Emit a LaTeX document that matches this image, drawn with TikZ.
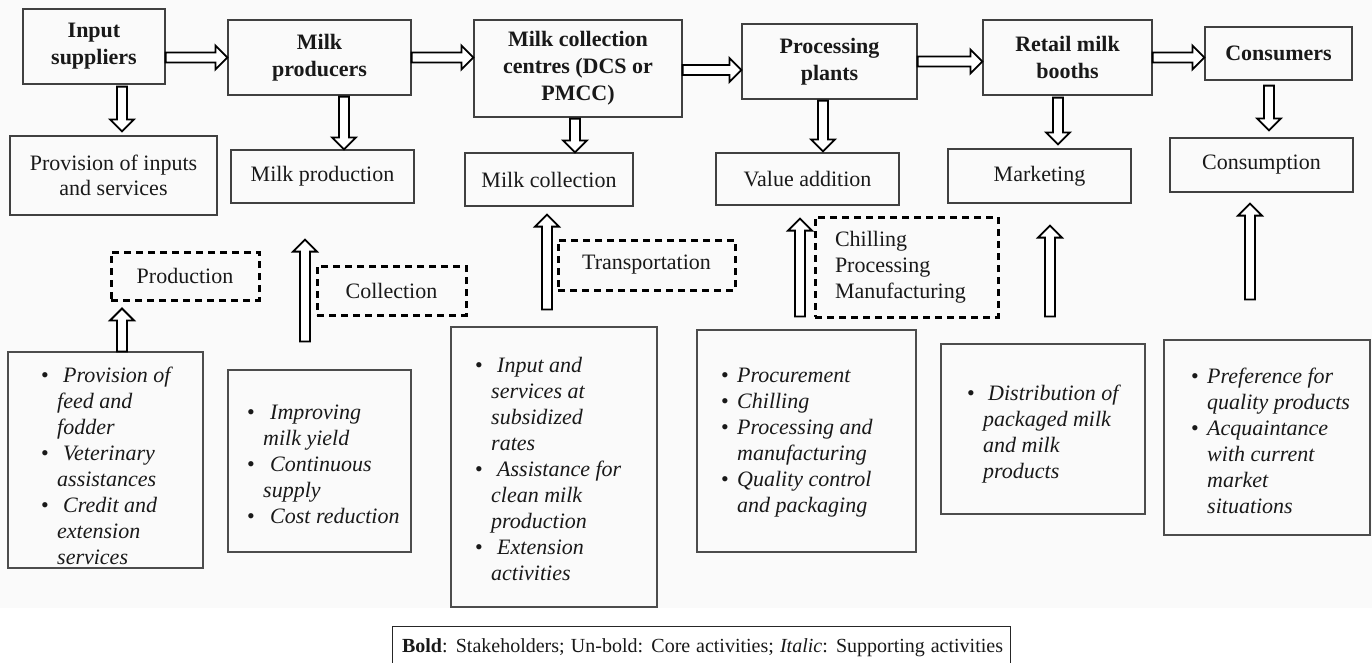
\documentclass[tikz,border=0pt]{standalone}
\usepackage{fontspec}
\setmainfont{Liberation Serif}
\usetikzlibrary{calc}
\newcommand\bu[1]{\makebox[#1pt][l]{\upshape\textbullet}}
\newcommand\co{\hspace*{16pt}}
\begin{document}
\begin{tikzpicture}[x=1pt,y=-1pt,
  hdr/.style={draw=black!75, line width=1.2pt, align=center, font=\fontsize{22}{27}\selectfont\bfseries, text=black!90, inner sep=0pt},
  core/.style={draw=black!75, line width=1.2pt, align=center, font=\fontsize{22}{25}\selectfont, text=black!90, inner sep=0pt},
  sup/.style={draw=black!70, line width=1.2pt, inner sep=0pt},
  dsh/.style={draw=black, line width=3pt, dash pattern=on 7pt off 5pt, font=\fontsize{22}{26}\selectfont, text=black!90, inner sep=0pt},
  itx/.style={anchor=base west, inner sep=0pt, font=\fontsize{22}{26}\selectfont\itshape, text=black!90},
  blk/.style={draw=black, line width=1.8pt, fill=white, line join=miter},
  rarr/.style={blk, to path={let \p1=(\tikztostart), \p2=(\tikztotarget) in
     (\x1,\y1+5pt) -- (\x2-12pt,\y1+5pt) -- (\x2-12pt,\y1+12pt) -- (\x2,\y1) -- (\x2-12pt,\y1-12pt) -- (\x2-12pt,\y1-5pt) -- (\x1,\y1-5pt) -- cycle}},
  darr/.style={blk, to path={let \p1=(\tikztostart), \p2=(\tikztotarget) in
     (\x1-5pt,\y1) -- (\x1-5pt,\y2+12pt) -- (\x1-12pt,\y2+12pt) -- (\x1,\y2) -- (\x1+12pt,\y2+12pt) -- (\x1+5pt,\y2+12pt) -- (\x1+5pt,\y1) -- cycle}},
  uarr/.style={blk, to path={let \p1=(\tikztostart), \p2=(\tikztotarget) in
     (\x1-5pt,\y1) -- (\x1-5pt,\y2-12pt) -- (\x1-12pt,\y2-12pt) -- (\x1,\y2) -- (\x1+12pt,\y2-12pt) -- (\x1+5pt,\y2-12pt) -- (\x1+5pt,\y1) -- cycle}},
]
\useasboundingbox (0,0) rectangle (1372,662);
\clip (0,0) rectangle (1372,662);
\fill[white] (0,0) rectangle (1372,662);
\fill[black!2] (0,0) rectangle (1372,608);

% stakeholders
\node[hdr, minimum width=142, minimum height=75] (is) at (94,46.5) {Input\\suppliers};
\node[hdr, minimum width=183, minimum height=75] (mp) at (319.5,57.5) {Milk\\producers};
\node[hdr, minimum width=208, minimum height=97] (mcc) at (578,68.5) {Milk collection\\centres (DCS or\\PMCC)};
\node[hdr, minimum width=175, minimum height=75] (pp) at (829.5,61.5) {Processing\\plants};
\node[hdr, minimum width=169, minimum height=75] (rmb) at (1067.5,57.5) {Retail milk\\booths};
\node[hdr, minimum width=147, minimum height=53] (con) at (1278.5,53.5) {Consumers};

% core activities
\node[core, minimum width=207, minimum height=79] (pis) at (113.5,175.5) {Provision of inputs\\and services};
\node[core, minimum width=183, minimum height=53] (mprod) at (322.5,176.5) {Milk production};
\node[core, minimum width=168, minimum height=53] (mcol) at (549,179.5) {Milk collection};
\node[core, minimum width=183, minimum height=52] (va) at (807.5,179) {Value addition};
\node[core, minimum width=183, minimum height=54] (mkt) at (1039.5,176) {Marketing};
\node[core, minimum width=183, minimum height=54] (cons) at (1261.5,165) {Consumption};

% dashed boxes
\node[dsh, minimum width=148, minimum height=48] (prod) at (185,276) {Production};
\node[dsh, minimum width=149, minimum height=49] (coll) at (391.5,290.5) {Collection};
\node[dsh, minimum width=177, minimum height=50] (trans) at (646.5,265) {Transportation};
\node[dsh, text width=143pt, inner xsep=20pt, minimum height=100, align=left] (chill) at (906.5,267) {Chilling\\Processing\\Manufacturing};

% supporting activity boxes
\node[sup, minimum width=195, minimum height=216] (b1) at (105.5,460) {};
\node[sup, minimum width=183, minimum height=182] (b2) at (319.5,461) {};
\node[sup, minimum width=206, minimum height=280] (b3) at (554,467) {};
\node[sup, minimum width=219, minimum height=222] (b4) at (806.5,441) {};
\node[sup, minimum width=204, minimum height=170] (b5) at (1043,429) {};
\node[sup, minimum width=206, minimum height=195] (b6) at (1267,437.5) {};

\node[itx] (t1) at (41,382) {\parbox[t]{200pt}{\raggedright
 \bu{22}Provision of\\ \co feed and\\ \co fodder\\ \bu{22}Veterinary\\ \co assistances\\ \bu{22}Credit and\\ \co extension\\ \co services}};
\node[itx] (t2) at (247,419) {\parbox[t]{200pt}{\raggedright
 \bu{23}Improving\\ \co milk yield\\ \bu{23}Continuous\\ \co supply\\ \bu{23}Cost reduction}};
\node[itx] (t3) at (475,372) {\parbox[t]{200pt}{\raggedright
 \bu{22}Input and\\ \co services at\\ \co subsidized\\ \co rates\\ \bu{22}Assistance for\\ \co clean milk\\ \co production\\ \bu{22}Extension\\ \co activities}};
\node[itx] (t4) at (721,382) {\parbox[t]{200pt}{\raggedright
 \bu{16}Procurement\\ \bu{16}Chilling\\ \bu{16}Processing and\\ \co manufacturing\\ \bu{16}Quality control\\ \co and packaging}};
\node[itx] (t5) at (967,400) {\parbox[t]{200pt}{\raggedright
 \bu{21}Distribution of\\ \co packaged milk\\ \co and milk\\ \co products}};
\node[itx] (t6) at (1191,383) {\parbox[t]{200pt}{\raggedright
 \bu{16}Preference for\\ \co quality products\\ \bu{16}Acquaintance\\ \co with current\\ \co market\\ \co situations}};

% horizontal arrows
\draw[rarr] (is.east |- mp.west) to (mp.west);
\draw[rarr] (mp.east) to (mp.east -| mcc.west);
\draw[rarr] ([yshift=-1.5pt]mcc.east) to ([yshift=-1.5pt]mcc.east -| pp.west);
\draw[rarr] (pp.east) to (pp.east -| rmb.west);
\draw[rarr] (rmb.east) to (rmb.east -| con.west);

% down arrows
\draw[darr] ([xshift=28pt,yshift=-2pt]is.south) to ([xshift=8.5pt,yshift=4pt]pis.north);
\draw[darr] ([xshift=24.5pt,yshift=-1pt]mp.south) to ([xshift=21.5pt]mprod.north);
\draw[darr] ([xshift=-3pt,yshift=-1pt]mcc.south) to ([xshift=26pt]mcol.north);
\draw[darr] ([xshift=-6.5pt,yshift=-1pt]pp.south) to ([xshift=15.5pt,yshift=1pt]va.north);
\draw[darr] ([xshift=-9.5pt,yshift=-2pt]rmb.south) to ([xshift=18.5pt,yshift=4pt]mkt.north);
\draw[darr] ([xshift=-9.5pt,yshift=-5pt]con.south) to ([xshift=7.5pt,yshift=7pt]cons.north);

% up arrows
\draw[uarr] ([xshift=16.5pt]b1.north) to ([xshift=-63pt,yshift=-7pt]prod.south);
\draw[uarr] ([xshift=-14.5pt,yshift=28pt]b2.north) to ([xshift=-17.5pt,yshift=-36pt]mprod.south);
\draw[uarr] ([xshift=-7pt,yshift=17pt]b3.north) to ([xshift=-2pt,yshift=-8pt]mcol.south);
\draw[uarr] ([xshift=-6.5pt,yshift=13pt]b4.north) to ([xshift=-7.5pt,yshift=-13pt]va.south);
\draw[uarr] ([xshift=7pt,yshift=27pt]b5.north) to ([xshift=10.5pt,yshift=-22pt]mkt.south);
\draw[uarr] ([xshift=-17pt,yshift=40pt]b6.north) to ([xshift=-11.5pt,yshift=-11pt]cons.south);

% legend
\node[draw=black!85, line width=1.2pt, minimum width=618, minimum height=70, inner sep=0pt, anchor=north west] (leg) at (392,626) {};
\node[anchor=base, inner sep=0pt, font=\fontsize{20}{24}\selectfont, text=black!90] (legtxt) at (702.5,652)
  {\makebox[601pt][s]{\textbf{Bold}: Stakeholders; Un-bold: Core activities; \textit{Italic}: Supporting activities}};
\end{tikzpicture}
\end{document}
